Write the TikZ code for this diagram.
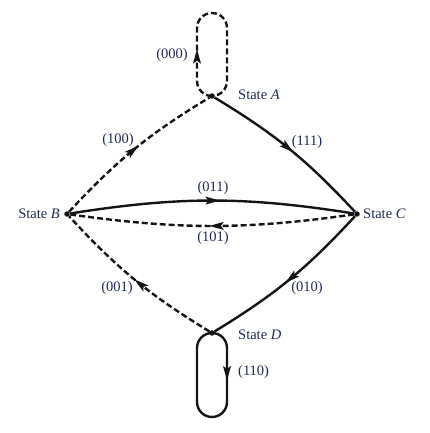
\documentclass[tikz,border=0pt]{standalone}
\usepackage{fontspec}
\setmainfont{Liberation Serif}
\usetikzlibrary{calc}
\definecolor{txt}{RGB}{30,40,90}
\definecolor{ln}{RGB}{20,20,20}
\newcommand{\headat}[2]{%
  \fill[ln] (#1) -- ($(#1)!14.5pt!(#2)!4pt!90:(#1)$) -- ($(#1)!11.5pt!(#2)$)
    -- ($(#1)!14.5pt!(#2)!4pt!-90:(#1)$) -- cycle;}
\begin{document}
\begin{tikzpicture}[x=1pt,y=1pt,
  every node/.style={font=\fontsize{14.5}{17}\selectfont, text=txt},
  dot/.style={circle,fill=ln,inner sep=0pt,minimum size=5.5pt},
  link/.style={draw=ln,line width=2.4pt},
  dsh/.style={link,dash pattern=on 6pt off 3pt},
  lab/.style={inner sep=1pt}]
\useasboundingbox (0,0) rectangle (430,433);
% states
\node[dot] (A) at (212,337) {};
\node[dot] (B) at (67,219) {};
\node[dot] (C) at (357,219) {};
\node[dot] (D) at (212,100) {};
\node[lab,anchor=west] (lA) at (237,338) {State \textit{A}};
\node[lab,anchor=east] (lB) at (61,219) {State \textit{B}};
\node[lab,anchor=west] (lC) at (362,219) {State \textit{C}};
\node[lab,anchor=west] (lD) at (237,98) {State \textit{D}};
% self loops
\path[dsh] (A.center) arc[start angle=-90,end angle=-180,radius=15]
  -- coordinate[pos=0.3](a1) coordinate[pos=0.6](a2) ++(0,53)
  arc[start angle=180,end angle=0,radius=15]
  -- ++(0,-53) arc[start angle=0,end angle=-90,radius=15];
\path[link] (D.center) arc[start angle=90,end angle=0,radius=15]
  -- coordinate[pos=0.3](d1) coordinate[pos=0.6](d2) ++(0,-54)
  arc[start angle=0,end angle=-180,radius=15]
  -- ++(0,54) arc[start angle=180,end angle=90,radius=15];
\headat{a2}{a1}
\headat{d2}{d1}
% transitions
\path[link] (A) to[bend left=8] coordinate[pos=0.44](ac1) coordinate[pos=0.53](ac2) (C);
\path[dsh] (B) to[bend left=8] coordinate[pos=0.44](ba1) coordinate[pos=0.53](ba2) (A);
\path[link] (C) to[bend left=8] coordinate[pos=0.44](cd1) coordinate[pos=0.53](cd2) (D);
\path[dsh] (D) to[bend left=8] coordinate[pos=0.42](db1) coordinate[pos=0.5](db2) (B);
\path[link] (B) to[bend left=9] coordinate[pos=0.47](bc1) coordinate[pos=0.53](bc2) (C);
\path[dsh] (C) to[bend left=8] coordinate[pos=0.45](cb1) coordinate[pos=0.51](cb2) (B);
\headat{ac2}{ac1}
\headat{ba2}{ba1}
\headat{cd2}{cd1}
\headat{db2}{db1}
\headat{bc2}{bc1}
\headat{cb2}{cb1}
% labels
\node[lab,anchor=east] (t000) at (189,378) {(000)};
\node[lab] (t100) at (118,293) {(100)};
\node[lab] (t111) at (307,291) {(111)};
\node[lab] (t011) at (213,245) {(011)};
\node[lab] (t101) at (213,195) {(101)};
\node[lab] (t001) at (117,145) {(001)};
\node[lab] (t010) at (307,145) {(010)};
\node[lab,anchor=west] (t110) at (237,61) {(110)};
\end{tikzpicture}
\end{document}
